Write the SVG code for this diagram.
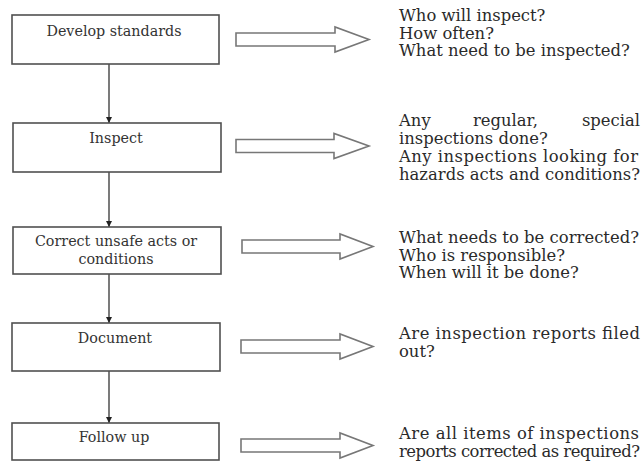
<svg xmlns="http://www.w3.org/2000/svg" width="642" height="467" viewBox="0 0 642 467">
<style>
.box{fill:#fff;stroke:#505050;stroke-width:1.6}
.lbl{font-family:"DejaVu Serif","Liberation Serif",serif;font-size:14.3px;fill:#333;text-anchor:middle}
.txt{font-family:"DejaVu Serif","Liberation Serif",serif;font-size:16.4px;fill:#2a2a2a}
.end{text-anchor:end}
.barrow{fill:#fff;stroke:#777;stroke-width:1.6;stroke-linejoin:miter}
.conn{stroke:#222;stroke-width:1.2;fill:none}
</style>
<defs>
<marker id="ah" viewBox="0 0 10 10" refX="10" refY="5" markerWidth="6" markerHeight="6" orient="auto" markerUnits="userSpaceOnUse">
<path d="M0,0 L10,5 L0,10 z" fill="#222"/>
</marker>
</defs>
<rect width="642" height="467" fill="#fff"/>

<g id="connectors">
<line class="conn" x1="109" y1="64" x2="109" y2="123" marker-end="url(#ah)"/>
<line class="conn" x1="109" y1="172" x2="109" y2="227" marker-end="url(#ah)"/>
<line class="conn" x1="109" y1="274" x2="109" y2="323" marker-end="url(#ah)"/>
<line class="conn" x1="109" y1="371" x2="109" y2="423" marker-end="url(#ah)"/>
</g>

<g id="node-develop">
<rect class="box" x="12" y="15" width="207" height="49"/>
<text class="lbl" x="114" y="36">Develop standards</text>
</g>
<g id="node-inspect">
<rect class="box" x="13" y="123" width="208" height="49"/>
<text class="lbl" x="116" y="143">Inspect</text>
</g>
<g id="node-correct">
<rect class="box" x="13" y="227" width="208" height="47"/>
<text class="lbl" x="116" y="246">Correct unsafe acts or</text>
<text class="lbl" x="116" y="264">conditions</text>
</g>
<g id="node-document">
<rect class="box" x="12" y="323" width="208" height="48"/>
<text class="lbl" x="115" y="343">Document</text>
</g>
<g id="node-followup">
<rect class="box" x="12" y="423" width="207" height="37"/>
<text class="lbl" x="114" y="442">Follow up</text>
</g>

<g id="block-arrows">
<path class="barrow" d="M236,33 L335,33 L335,27 L369,39.5 L335,52 L335,46 L236,46 Z"/>
<path class="barrow" d="M236,139.5 L334,139.5 L334,133.5 L369,146 L334,158.5 L334,152.5 L236,152.5 Z"/>
<path class="barrow" d="M242,240 L340,240 L340,234 L373,246.5 L340,259 L340,253 L242,253 Z"/>
<path class="barrow" d="M241,340 L340,340 L340,334 L373,346.5 L340,359 L340,353 L241,353 Z"/>
<path class="barrow" d="M241,439 L340,439 L340,433 L373,445.5 L340,458 L340,452 L241,452 Z"/>
</g>

<g id="notes-develop">
<text class="txt" x="399" y="21">Who will inspect?</text>
<text class="txt" x="399" y="38.5">How often?</text>
<text class="txt" x="399" y="56">What need to be inspected?</text>
</g>
<g id="notes-inspect">
<text class="txt" x="399" y="126">Any</text>
<text class="txt" x="473" y="126">regular,</text>
<text class="txt end" x="640" y="126">special</text>
<text class="txt" x="399" y="144">inspections done?</text>
<text class="txt" x="399" y="162" textLength="239" lengthAdjust="spacing">Any inspections looking for</text>
<text class="txt" x="399" y="180" textLength="241" lengthAdjust="spacing">hazards acts and conditions?</text>
</g>
<g id="notes-correct">
<text class="txt" x="399" y="243" textLength="240" lengthAdjust="spacing">What needs to be corrected?</text>
<text class="txt" x="399" y="260.5">Who is responsible?</text>
<text class="txt" x="399" y="278">When will it be done?</text>
</g>
<g id="notes-document">
<text class="txt" x="399" y="339" textLength="241" lengthAdjust="spacing">Are inspection reports filed</text>
<text class="txt" x="399" y="356.5">out?</text>
</g>
<g id="notes-followup">
<text class="txt" x="399" y="438.5" textLength="240" lengthAdjust="spacing">Are all items of inspections</text>
<text class="txt" x="399" y="456.5" textLength="241" lengthAdjust="spacing">reports corrected as required?</text>
</g>
</svg>
